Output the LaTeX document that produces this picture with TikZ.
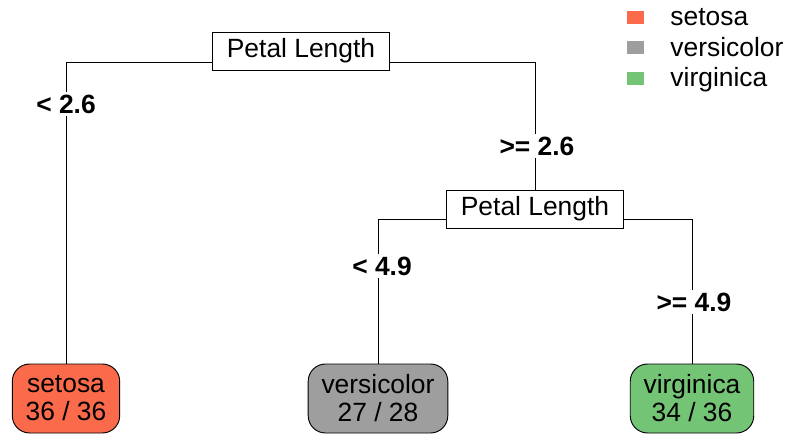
\documentclass[tikz,border=0pt]{standalone}
\usepackage{fontspec}
\setmainfont{Liberation Sans}
\usetikzlibrary{positioning}
\definecolor{setosacol}{HTML}{FB6A4A}
\definecolor{versicol}{HTML}{9E9E9E}
\definecolor{virgcol}{HTML}{74C476}
\tikzset{treefont/.style={font=\fontsize{19.8}{21}\selectfont}}

\begin{document}
\begin{tikzpicture}[x=0.75pt, y=-0.75pt, treefont, line width=0.7pt,
	split/.style={draw, fill=white, inner xsep=10.5pt, inner ysep=0pt, minimum height=28.5pt},
	leaf/.style={draw, rounded corners=13pt, align=center, inner xsep=10pt, inner ysep=0pt, minimum height=51.75pt},
	cond/.style={fill=white, font=\bfseries\fontsize{19.8}{21}\selectfont, inner sep=2pt},
	key/.style={minimum width=12.75pt, minimum height=9.75pt, inner sep=0pt}]
	\useasboundingbox (0,0) rectangle (787,434);
			\node[split] (root) at (301,51) {Petal Length};
			\node[split] (split2) at (535,209) {Petal Length};
			\node[leaf, fill=setosacol] (setosa) at (66,398.5) {setosa\\36 / 36};
			\node[leaf, fill=versicol] (versi) at (378,398.5) {versicolor\\27 / 28};
			\node[leaf, fill=virgcol] (virg) at (692,398.5) {virginica\\34 / 36};
			\draw ([yshift=-8.25pt]root.west) -| (setosa);
			\draw ([yshift=-8.25pt]root.east) -| (split2);
			\draw ([yshift=-7.5pt]split2.west) -| (versi);
			\draw ([yshift=-7.5pt]split2.east) -| (virg);
			\node[cond] (c1) at (66,104) {< 2.6};
			\node[cond] (c2) at (537,146) {>= 2.6};
			\node[cond] (c3) at (382,266) {< 4.9};
			\node[cond] (c4) at (694,302) {>= 4.9};
			% legend
			\node[key, fill=setosacol] (k1) at (635,17.5) {};
			\node[key, fill=versicol] (k2) at (635,48) {};
			\node[key, fill=virgcol] (k3) at (635,79) {};
			\node[anchor=base west, inner sep=0pt] (t1) at (670,26) {setosa};
			\node[anchor=base west, inner sep=0pt] (t2) at (670,57) {versicolor};
			\node[anchor=base west, inner sep=0pt] (t3) at (670,87) {virginica};
\end{tikzpicture}
\end{document}
